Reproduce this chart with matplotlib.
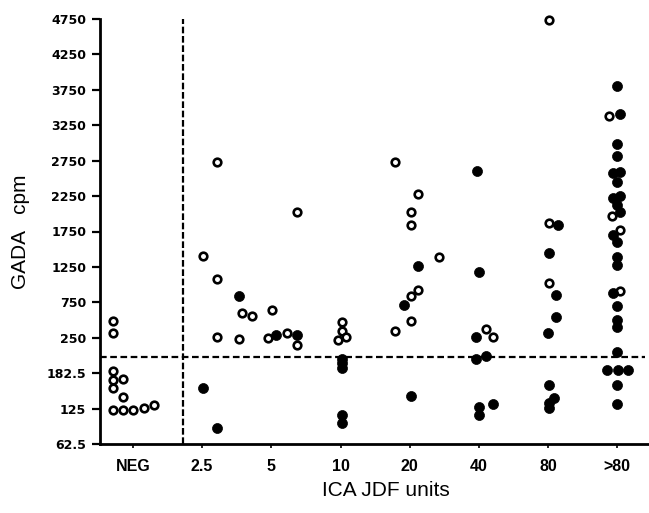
import numpy as np
import matplotlib
matplotlib.use("Agg")
import matplotlib.pyplot as plt

# y axis tick values (evenly spaced on the printed axis)
y_ticks = [62.5, 125, 182.5, 250, 750, 1250, 1750, 2250, 2750, 3250, 3750, 4250, 4750]
y_tick_labels = ["62.5", "125", "182.5", "250", "750", "1250", "1750", "2250",
                 "2750", "3250", "3750", "4250", "4750"]

# x axis: ICA JDF units on log2 scale; NEG drawn at 1.25 and >80 at 160
x_ticks = [1.25, 2.5, 5, 10, 20, 40, 80, 160]
x_tick_labels = ["NEG", "2.5", "5", "10", "20", "40", "80", ">80"]

# open circles
open_x = [1.02, 1.02, 1.02, 1.02, 1.134, 1.02, 1.134, 1.02, 1.134, 1.25, 1.396, 1.548,
          2.89, 2.53, 2.89, 2.89, 3.61, 3.72, 4.13,
          6.45, 5.05, 4.85, 5.84, 6.44,
          10.19, 10.13, 9.73, 10.54,
          17.2, 21.8, 20.3, 20.3, 26.7, 21.8, 20.3, 20.3, 17.2,
          43.0, 46.3,
          80.9, 80.9, 80.9,
          148, 152, 164, 165]
open_y = [490, 320, 186.6, 171.6, 173.6, 158, 144.4, 122.7, 122.7, 122.7, 126.4, 130.3,
          2733, 1405, 1085, 265, 247, 595, 558,
          2030, 635, 249, 320, 236,
          476, 345, 246, 265,
          2736, 2280, 2022, 1843, 1395, 925, 845, 490, 345,
          370, 255,
          4730, 1876, 1030,
          3385, 1965, 1774, 915]

# filled circles
filled_x = [3.61, 2.51, 2.89,
            5.22, 6.44,
            10.17, 10.17, 10.17, 10.17, 10.17,
            21.8, 18.8, 20.3,
            39.2, 40.1, 38.9, 38.9, 43.0, 40.1, 40.1, 46.3,
            88.8, 80.9, 86.6, 86.6, 80.3, 81.0, 84.5, 80.9, 80.9,
            160, 164, 160, 160, 154, 164, 160, 154, 164, 160, 164, 154, 160,
            160, 160, 153, 160, 160, 160, 160, 144.4, 160.6, 178, 160, 160]
filled_y = [845, 158, 90,
            290, 290,
            210, 201, 192, 113.7, 99,
            1268, 715, 146,
            2610, 1175, 255, 210, 215, 128, 113.7, 132,
            1843, 1450, 855, 540, 315, 164, 142.6, 133.6, 125.6,
            3810, 3405, 2985, 2820, 2575, 2585, 2455, 2220, 2245, 2125, 2020, 1700, 1595,
            1395, 1276, 880, 695, 500, 395, 222, 188.6, 188.6, 188.6, 164, 132]

cutoff_gada = 213
cutoff_ica = 2.06

y_idx = np.arange(len(y_ticks), dtype=float)


def fwd(v):
    return np.interp(v, y_ticks, y_idx)


def inv(i):
    return np.interp(i, y_idx, y_ticks)


plt.rcParams["font.family"] = ["Liberation Sans", "DejaVu Sans"]

fig = plt.figure(figsize=(6.49, 5.13), dpi=100)
ax = fig.add_axes([100 / 649, 1 - 444 / 513, 549 / 649, (444 - 19) / 513])

ax.set_yscale("function", functions=(fwd, inv))
ax.set_xscale("log", base=2)
ax.set_ylim(62.5, 4750)
ax.set_xlim(0.898, 220)

ax.scatter(open_x, open_y, s=30, facecolors="white", edgecolors="black",
           linewidths=1.9, zorder=3, clip_on=False)
ax.scatter(filled_x, filled_y, s=52, facecolors="black", edgecolors="black",
           linewidths=0.5, zorder=4, clip_on=False)

ax.axhline(cutoff_gada, xmin=0, xmax=0.993, color="black", lw=1.6,
           linestyle=(0, (3, 1.6)), zorder=2)
ax.axvline(cutoff_ica, color="black", lw=1.6, linestyle=(0, (3, 1.2)), zorder=2)

ax.set_yticks(y_ticks)
ax.set_yticklabels(y_tick_labels, fontsize=9, fontweight="bold",
                   fontfamily=["DejaVu Sans"])
ax.set_xticks(x_ticks)
ax.set_xticklabels(x_tick_labels, fontsize=11.5, fontweight="bold")
ax.minorticks_off()
ax.xaxis.set_minor_locator(matplotlib.ticker.NullLocator())

ax.tick_params(axis="y", direction="out", length=6, width=1.6, pad=4)
ax.tick_params(axis="x", direction="out", length=3, width=1.2, pad=8)

for s in ["top", "right"]:
    ax.spines[s].set_visible(False)
ax.spines["left"].set_linewidth(2.0)
ax.spines["bottom"].set_linewidth(2.0)

fig.text(21 / 649, 1 - 232 / 513, "GADA   cpm", rotation=90, ha="center", va="center",
         fontsize=15)
fig.text(386 / 649, 1 - 490 / 513, "ICA JDF units", ha="center", va="center",
         fontsize=15)

fig.savefig("out.png", dpi=100)
